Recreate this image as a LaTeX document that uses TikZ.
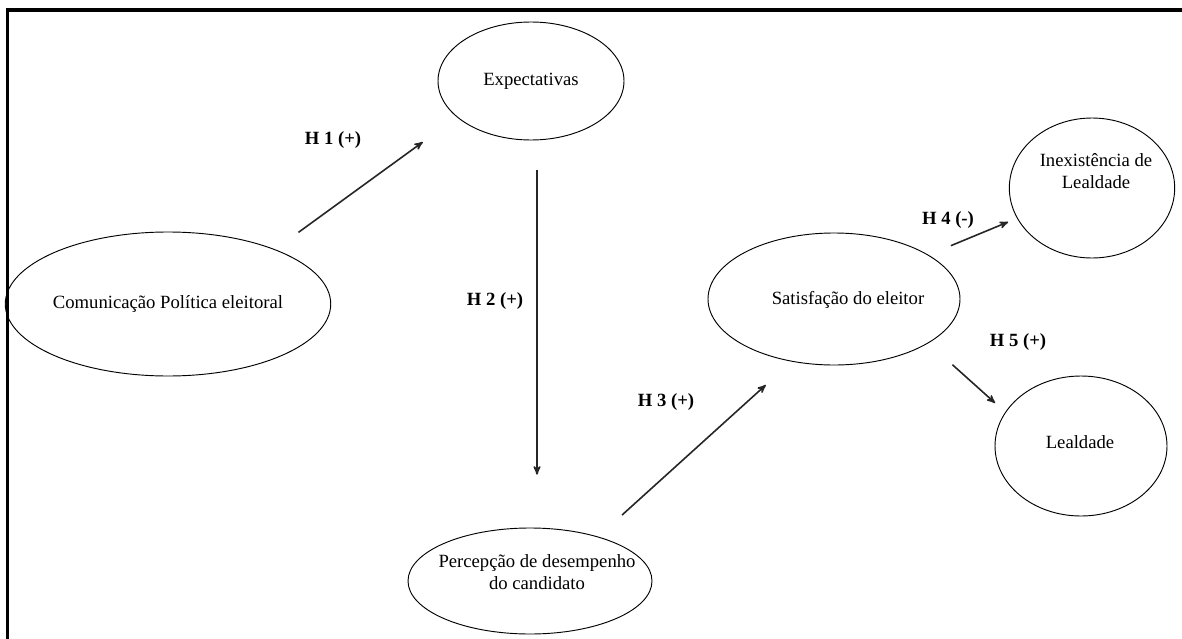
\documentclass[tikz,border=0pt]{standalone}
\usepackage{fontspec}
\setmainfont{Liberation Serif}
\usetikzlibrary{arrows,shapes.geometric}

\begin{document}
\begin{tikzpicture}[x=0.75pt,y=-0.75pt,
                    every node/.style={font=\fontsize{14}{16.5}\selectfont},
                    construct/.style={ellipse,draw,line width=0.7pt,inner sep=0pt,outer sep=0pt},
                    hyp/.style={->,>=stealth',line width=1.2pt,black!85},
                    hlabel/.style={font=\fontsize{14}{16.5}\selectfont\bfseries}]

  \useasboundingbox (0,0) rectangle (1182,639);
  \draw[line width=2.5pt] (7.5,639) -- (7.5,10) -- (1182,10);

  \node[construct,minimum width=235pt,minimum height=108pt] (com) at (168,304) {Comunicação Política eleitoral};
  \node[construct,minimum width=139.5pt,minimum height=88.5pt] (expect) at (531,81) {Expectativas};
  \node[construct,minimum width=183pt,minimum height=79.5pt] (percep) at (530,581) {};
  \node[construct,minimum width=189pt,minimum height=99pt] (satisf) at (834,299) {};
  \node[construct,minimum width=124pt,minimum height=105pt] (inex) at (1092,188) {};
  \node[construct,minimum width=129pt,minimum height=105pt] (leal) at (1081,446) {};

  \node[align=center] (percep text) at (537,572) {Percepção de desempenho\\do candidato};
  \node (satisf text) at (848,300) {Satisfação do eleitor};
  \node[align=center] (inex text) at (1096,171) {Inexistência de\\Lealdade};
  \node (leal text) at (1080,442) {Lealdade};

  \node[hlabel] (h1) at (333,140) {H 1 (+)};
  \node[hlabel] (h2) at (495,301) {H 2 (+)};
  \node[hlabel] (h3) at (666,402) {H 3 (+)};
  \node[hlabel] (h4) at (948,220) {H 4 (-)};
  \node[hlabel] (h5) at (1018,342) {H 5 (+)};

  \path
    (com.27) edge[hyp,shorten <=22pt,shorten >=32pt] (expect.206)
    ([xshift=4.5pt]expect.south) edge[hyp,shorten <=22.5pt,shorten >=40pt] ([xshift=5.25pt]percep.north)
    (percep.33) edge[hyp,shorten <=24.5pt,shorten >=26.5pt] (satisf.236)
    (satisf.25) edge[hyp,shorten <=18.5pt,shorten >=7.5pt] (inex.202)
    (satisf.335) edge[hyp,shorten <=24.5pt,shorten >=10.5pt] (leal.156);
\end{tikzpicture}
\end{document}
